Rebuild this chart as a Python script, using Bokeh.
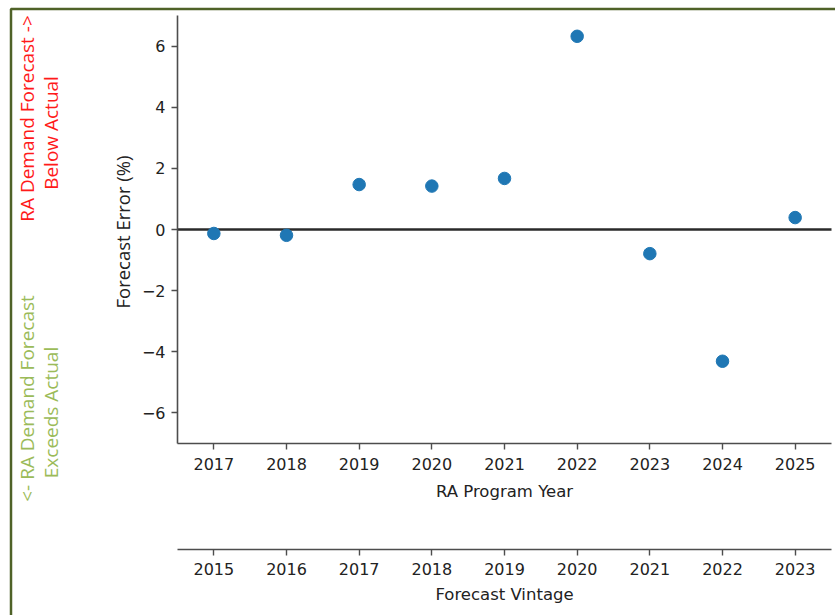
from bokeh.plotting import figure
from bokeh.models import LinearAxis, Range1d, FixedTicker, Label, BoxAnnotation
from bokeh.embed import file_html
from bokeh.resources import INLINE

# ---------------- data ----------------
program_years = [2017, 2018, 2019, 2020, 2021, 2022, 2023, 2024, 2025]
vintage_years = [2015, 2016, 2017, 2018, 2019, 2020, 2021, 2022, 2023]
forecast_error = [-0.13, -0.19, 1.47, 1.42, 1.67, 6.32, -0.79, -4.31, 0.39]
y_ticks = [-6, -4, -2, 0, 2, 4, 6]
y_tick_labels = ["\u22126", "\u22124", "\u22122", "0", "2", "4", "6"]
x_label_program = "RA Program Year"
x_label_vintage = "Forecast Vintage"
y_label = "Forecast Error (%)"
note_below = ["RA Demand Forecast ->", "Below  Actual"]
note_exceeds = ["<- RA Demand Forecast", "Exceeds Actual"]

# ---------------- layout (canvas pixels) ----------------
W, H = 835, 615
AX_LEFT, AX_RIGHT, AX_TOP, AX_BOTTOM = 177, 831, 15, 443   # plotting area
VINTAGE_AXIS_PX = 549
X_LO, X_HI = program_years[0] - 0.5, program_years[-1] + 0.5
Y_LO, Y_HI = -7.0, 7.0
PXX = (AX_RIGHT - AX_LEFT) / (X_HI - X_LO)
PXY = (AX_BOTTOM - AX_TOP) / (Y_HI - Y_LO)
OFFSET = program_years[0] - vintage_years[0]


def y_of(px):
    return Y_HI - (px - AX_TOP) / PXY


x_start = X_LO - AX_LEFT / PXX
x_end = X_HI + (W - AX_RIGHT) / PXX
y_start = y_of(H)
y_end = y_of(0)

TICK_FONT = "DejaVu Sans"
TEXT_COL = "#222222"
SPINE_COL = "#4d4d4d"

p = figure(width=W, height=H, output_backend="svg", toolbar_location=None,
           x_range=Range1d(x_start, x_end), y_range=Range1d(y_start, y_end),
           min_border=0, min_border_left=0, min_border_right=0,
           min_border_top=0, min_border_bottom=0,
           background_fill_color="white", border_fill_color="white",
           outline_line_color=None)
p.extra_x_ranges = {"vintage": Range1d(x_start - OFFSET, x_end - OFFSET)}
p.xgrid.visible = False
p.ygrid.visible = False


def style_axis(ax):
    ax.axis_line_color = SPINE_COL
    ax.axis_line_width = 1.6
    ax.major_tick_line_color = SPINE_COL
    ax.major_tick_line_width = 1.4
    ax.major_tick_out = 6
    ax.major_tick_in = 0
    ax.minor_tick_line_color = None
    ax.major_label_text_font = TICK_FONT
    ax.major_label_text_font_size = "16px"
    ax.major_label_text_color = TEXT_COL


# program year axis
xa = p.xaxis[0]
xa.fixed_location = Y_LO
xa.bounds = (X_LO, X_HI)
xa.ticker = FixedTicker(ticks=program_years)
xa.major_label_overrides = {y: str(y) for y in program_years}
style_axis(xa)
xa.major_label_standoff = 8

# vintage axis
va = LinearAxis(x_range_name="vintage", fixed_location=y_of(VINTAGE_AXIS_PX))
va.bounds = (X_LO - OFFSET, X_HI - OFFSET)
va.ticker = FixedTicker(ticks=vintage_years)
va.major_label_overrides = {y: str(y) for y in vintage_years}
style_axis(va)
va.major_label_standoff = 7
p.add_layout(va, "below")

# y axis
ya = p.yaxis[0]
ya.fixed_location = X_LO
ya.bounds = (Y_LO, Y_HI)
ya.ticker = FixedTicker(ticks=y_ticks)
ya.major_label_overrides = dict(zip(y_ticks, y_tick_labels))
style_axis(ya)
ya.major_label_standoff = 6

# zero line
p.segment(x0=[X_LO], y0=[0], x1=[X_HI], y1=[0], line_color="#2a2a2a", line_width=2.6)

# points
p.scatter(program_years, forecast_error, size=12.5, color="#1f77b4", line_color="#1f77b4")


def text_at(text, px, py, color, size, font, angle=0.0):
    # screen units: x from the left, y upward from the bottom of the canvas
    p.add_layout(Label(x=px, y=H - py, x_units="screen", y_units="screen",
                       text=text, angle=angle, text_align="center",
                       text_baseline="alphabetic", text_font=font,
                       text_font_size=size, text_color=color))


VERT = 1.5707963
# axis titles
text_at(x_label_program, (AX_LEFT + AX_RIGHT) / 2, 491, TEXT_COL, "16.5px", TICK_FONT)
text_at(x_label_vintage, (AX_LEFT + AX_RIGHT) / 2, 593.5, TEXT_COL, "16.5px", TICK_FONT)
text_at(y_label, 122, 231.5, TEXT_COL, "18.5px", "Open Sans", VERT)

# side notes
text_at(note_below[0], 26.5, 118, "#ff1a1a", "19px", "Open Sans", VERT)
text_at(note_below[1], 50, 130, "#ff1a1a", "19px", "Open Sans", VERT)
text_at(note_exceeds[0], 26.5, 398, "#9bbb59", "19px", "Open Sans", VERT)
text_at(note_exceeds[1], 50, 412, "#9bbb59", "19px", "Open Sans", VERT)

# outer border
p.add_layout(BoxAnnotation(left=10.5, right=1200, top=H - 8.5, bottom=-200,
                           left_units="screen", right_units="screen",
                           top_units="screen", bottom_units="screen",
                           fill_color=None, line_color="#4f6228", line_alpha=1.0,
                           line_width=2.5))

open("out.html", "w").write(file_html(p, INLINE))
